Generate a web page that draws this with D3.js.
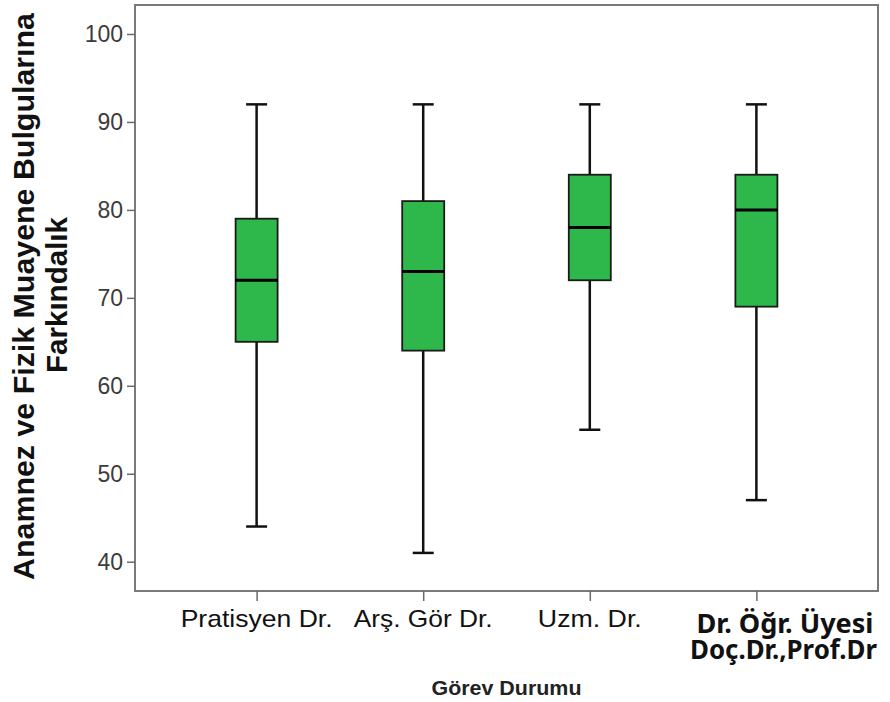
<!DOCTYPE html>
<html>
<head>
<meta charset="utf-8">
<script src="https://cdn.jsdelivr.net/npm/d3@7"></script>
<style>
  html, body { margin: 0; padding: 0; background: #fff; }
  svg { display: block; }
</style>
</head>
<body>
<svg id="chart" width="890" height="702"></svg>
<script>
const categories = ["Pratisyen Dr.", "Arş. Gör Dr.", "Uzm. Dr.", "Dr. Öğr. Üyesi|Doç.Dr.,Prof.Dr"];
const whiskerLow = [44, 41, 55, 47];
const quartile1 = [65, 64, 72, 69];
const medians = [72, 73, 78, 80];
const quartile3 = [79, 81, 84, 84];
const whiskerHigh = [92, 92, 92, 92];
const yTicks = [40, 50, 60, 70, 80, 90, 100];

const boxes = categories.map((name, i) => ({
  name,
  low: whiskerLow[i],
  q1: quartile1[i],
  median: medians[i],
  q3: quartile3[i],
  high: whiskerHigh[i]
}));

const frame = { left: 135, right: 878, top: 5, bottom: 591 };
const svg = d3.select("#chart");

const x = d3.scalePoint().domain(categories).range([frame.left, frame.right]).padding(0.73);
const y = d3.scaleLinear().domain([40, 100]).range([561.7, 34]);

const boxWidth = 42;
const capWidth = 21;
const ARIAL = "'Liberation Sans', Arial, sans-serif";

// text stretched along its own direction to a target width (the source render is wide)
function stretchedText(parent, { cx, cy, rotate = 0, width, size, weight = "normal", family = ARIAL, fill = "#111", text }) {
  const g = parent.append("g").attr("transform", `translate(${cx},${cy}) rotate(${rotate})`);
  const t = g.append("text")
    .attr("text-anchor", "middle")
    .attr("font-family", family)
    .attr("font-weight", weight)
    .attr("font-size", size)
    .attr("fill", fill)
    .text(text);
  const natural = t.node().getComputedTextLength();
  t.attr("transform", `scale(${width / natural},1)`);
  return t;
}

// plot frame
svg.append("rect")
  .attr("x", frame.left).attr("y", frame.top)
  .attr("width", frame.right - frame.left).attr("height", frame.bottom - frame.top)
  .attr("fill", "#fff").attr("stroke", "#7a7a7a").attr("stroke-width", 2);

// y axis
const yAxis = svg.append("g")
  .attr("transform", `translate(${frame.left},0)`)
  .call(d3.axisLeft(y).tickValues(yTicks).tickSize(8).tickPadding(4));
yAxis.select(".domain").remove();
yAxis.selectAll(".tick line").attr("stroke", "#6a6a6a").attr("stroke-width", 1.5);
yAxis.selectAll(".tick text")
  .attr("font-family", ARIAL)
  .attr("font-size", 23)
  .attr("fill", "#3c3c3c");

// x axis
const xAxis = svg.append("g")
  .attr("transform", `translate(0,${frame.bottom})`)
  .call(d3.axisBottom(x).tickSize(10).tickFormat(""));
xAxis.select(".domain").remove();
xAxis.selectAll(".tick line").attr("stroke", "#6a6a6a").attr("stroke-width", 1.5);

const labelWidths = [152, 139, 104];
categories.slice(0, 3).forEach((name, i) => {
  stretchedText(svg, { cx: x(name), cy: 627, width: labelWidths[i], size: 24, text: name });
});

const lastLines = categories[3].split("|");
stretchedText(svg, { cx: 785, cy: 633, width: 177, size: 26, weight: "bold", family: "'Noto Sans', sans-serif", text: lastLines[0] });
stretchedText(svg, { cx: 783.5, cy: 658.5, width: 187, size: 26, weight: "bold", family: "'Noto Sans', sans-serif", text: lastLines[1] });

// axis titles
stretchedText(svg, { cx: (frame.left + frame.right) / 2, cy: 695, width: 150, size: 20, weight: "bold", fill: "#222", text: "Görev Durumu" });
stretchedText(svg, { cx: 34, cy: 296.5, rotate: -90, width: 567, size: 29, weight: "bold", text: "Anamnez ve Fizik Muayene Bulgularına" });
stretchedText(svg, { cx: 67, cy: 295, rotate: -90, width: 156, size: 29, weight: "bold", text: "Farkındalık" });

// boxplots
const g = svg.append("g").selectAll("g").data(boxes).enter().append("g");

g.append("line")
  .attr("x1", (d) => x(d.name)).attr("x2", (d) => x(d.name))
  .attr("y1", (d) => y(d.high)).attr("y2", (d) => y(d.low))
  .attr("stroke", "#111").attr("stroke-width", 2.5);

g.append("line")
  .attr("x1", (d) => x(d.name) - capWidth / 2).attr("x2", (d) => x(d.name) + capWidth / 2)
  .attr("y1", (d) => y(d.high)).attr("y2", (d) => y(d.high))
  .attr("stroke", "#111").attr("stroke-width", 2.5);

g.append("line")
  .attr("x1", (d) => x(d.name) - capWidth / 2).attr("x2", (d) => x(d.name) + capWidth / 2)
  .attr("y1", (d) => y(d.low)).attr("y2", (d) => y(d.low))
  .attr("stroke", "#111").attr("stroke-width", 2.5);

g.append("rect")
  .attr("x", (d) => x(d.name) - boxWidth / 2)
  .attr("y", (d) => y(d.q3))
  .attr("width", boxWidth)
  .attr("height", (d) => y(d.q1) - y(d.q3))
  .attr("fill", "#2eb84b")
  .attr("stroke", "#1a1a1a").attr("stroke-width", 1.8);

g.append("line")
  .attr("x1", (d) => x(d.name) - boxWidth / 2).attr("x2", (d) => x(d.name) + boxWidth / 2)
  .attr("y1", (d) => y(d.median)).attr("y2", (d) => y(d.median))
  .attr("stroke", "#000").attr("stroke-width", 3);
</script>
</body>
</html>
